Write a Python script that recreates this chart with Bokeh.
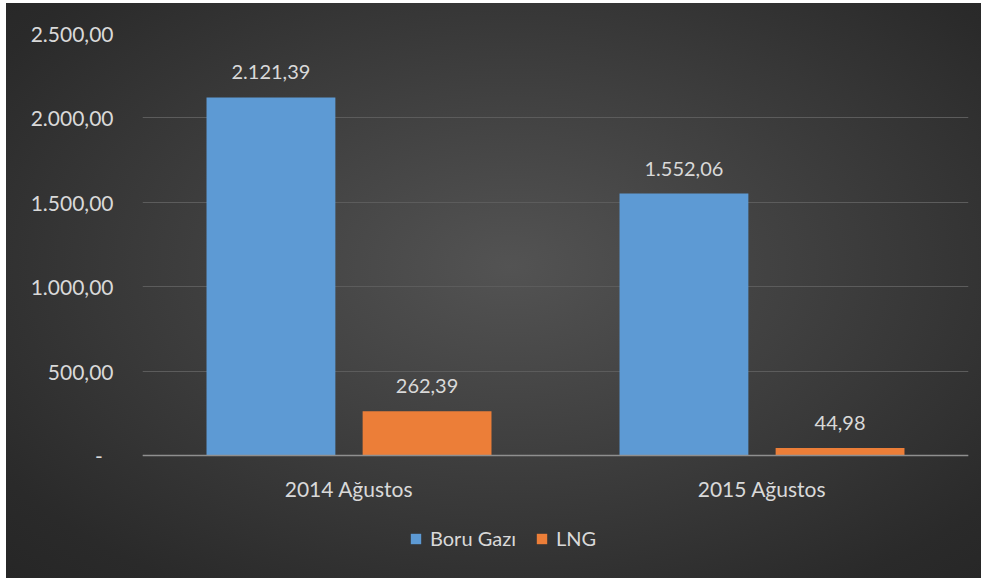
from bokeh.plotting import figure
from bokeh.models import (ColumnDataSource, FixedTicker, LabelSet, Legend, LegendItem,
                          Range1d, FactorRange, Span)
from bokeh.core.properties import value
from bokeh.transform import dodge
from bokeh.embed import file_html
from bokeh.resources import INLINE

categories = ["2014 Ağustos", "2015 Ağustos"]
series_names = ["Boru Gazı", "LNG"]
boru_gazi = [2121.39, 1552.06]
lng = [262.39, 44.98]
y_ticks = [0, 500, 1000, 1500, 2000, 2500]
y_tick_labels = ["-\u00a0\u00a0", "500,00", "1.000,00", "1.500,00", "2.000,00", "2.500,00"]


def fmt(v):
    s = f"{v:,.2f}"
    return s.replace(",", "X").replace(".", ",").replace("X", ".")


src = ColumnDataSource(dict(
    cat=categories,
    zero=[0] * len(categories),
    boru=boru_gazi,
    lng=lng,
    boru_lbl=[fmt(v) for v in boru_gazi],
    lng_lbl=[fmt(v) for v in lng],
))

FONT = "Lato"
TXT = "#d9d9d9"

# layout: plot top at 33px, value-zero line at 455px, page bottom at 578px
W, H = 981, 578
TOP, ZERO_PX = 33, 455
y_max = 2500
px_per_unit = (ZERO_PX - TOP) / y_max
y_min = -(H - ZERO_PX) / px_per_unit

p = figure(x_range=FactorRange(*categories), y_range=Range1d(y_min, y_max),
           width=W, height=H, output_backend="svg", toolbar_location=None,
           min_border_left=142, min_border_right=13, min_border_top=TOP,
           min_border_bottom=0)
p.background_fill_color = None
p.border_fill_color = None
p.outline_line_color = None
p.styles = {"background": (
    "linear-gradient(to right, #ffffff 6px, rgba(0,0,0,0) 6px), "
    "linear-gradient(to bottom, #ffffff 3px, rgba(0,0,0,0) 3px), "
    "radial-gradient(ellipse at 52% 46%, #535353 0%, #404040 40%, #2a2a2a 85%, #262626 100%)")}
p.x_range.range_padding = 0.0

off = 0.189
w = 0.312
r1 = p.vbar(x=dodge("cat", -off, range=p.x_range), top="boru", width=w, source=src,
            fill_color="#5d9ad4", line_color=None)
r2 = p.vbar(x=dodge("cat", off, range=p.x_range), top="lng", width=w, source=src,
            fill_color="#ec7e38", line_color=None)

for col, xo, top in (("boru_lbl", -off, "boru"), ("lng_lbl", off, "lng")):
    lbl = LabelSet(x=dodge("cat", xo, range=p.x_range), y=top, text=col, source=src,
                   text_align="center", text_baseline="middle", y_offset=25,
                   text_color=TXT, text_font_size=value("20px"), text_font=value(FONT))
    p.add_layout(lbl)

# category labels under the baseline
cat_lbl = LabelSet(x="cat", y="zero", text="cat", source=src,
                   text_align="center", text_baseline="middle", y_offset=-33,
                   text_color=TXT, text_font_size=value("21px"), text_font=value(FONT))
p.add_layout(cat_lbl)

# baseline
p.add_layout(Span(location=0, dimension="width", line_color="#8f8f8f", line_width=1.5))

# Grid / axes
p.xaxis.visible = False
p.xgrid.grid_line_color = None
p.ygrid.ticker = FixedTicker(ticks=y_ticks)
p.ygrid.grid_line_color = "#5c5c5c"
p.ygrid.grid_line_width = 1
p.yaxis.ticker = FixedTicker(ticks=y_ticks)
p.yaxis.major_label_overrides = {t: l for t, l in zip(y_ticks, y_tick_labels)}
p.yaxis.axis_line_color = None
p.yaxis.major_tick_line_color = None
p.yaxis.minor_tick_line_color = None
p.yaxis.major_tick_out = 0
p.yaxis.major_label_standoff = 29
p.yaxis.major_label_text_color = TXT
p.yaxis.major_label_text_font_size = "21px"
p.yaxis.major_label_text_font = FONT

legend = Legend(items=[LegendItem(label=series_names[0], renderers=[r1]),
                       LegendItem(label=series_names[1], renderers=[r2])],
                orientation="horizontal", location=(267, 28))
legend.background_fill_alpha = 0
legend.border_line_color = None
legend.label_text_color = TXT
legend.label_text_font_size = "20px"
legend.label_text_font = FONT
legend.glyph_width = 13
legend.glyph_height = 13
legend.spacing = 19
legend.label_standoff = 8
legend.margin = 0
legend.padding = 0
p.add_layout(legend)

open("out.html", "w").write(file_html(p, INLINE))
